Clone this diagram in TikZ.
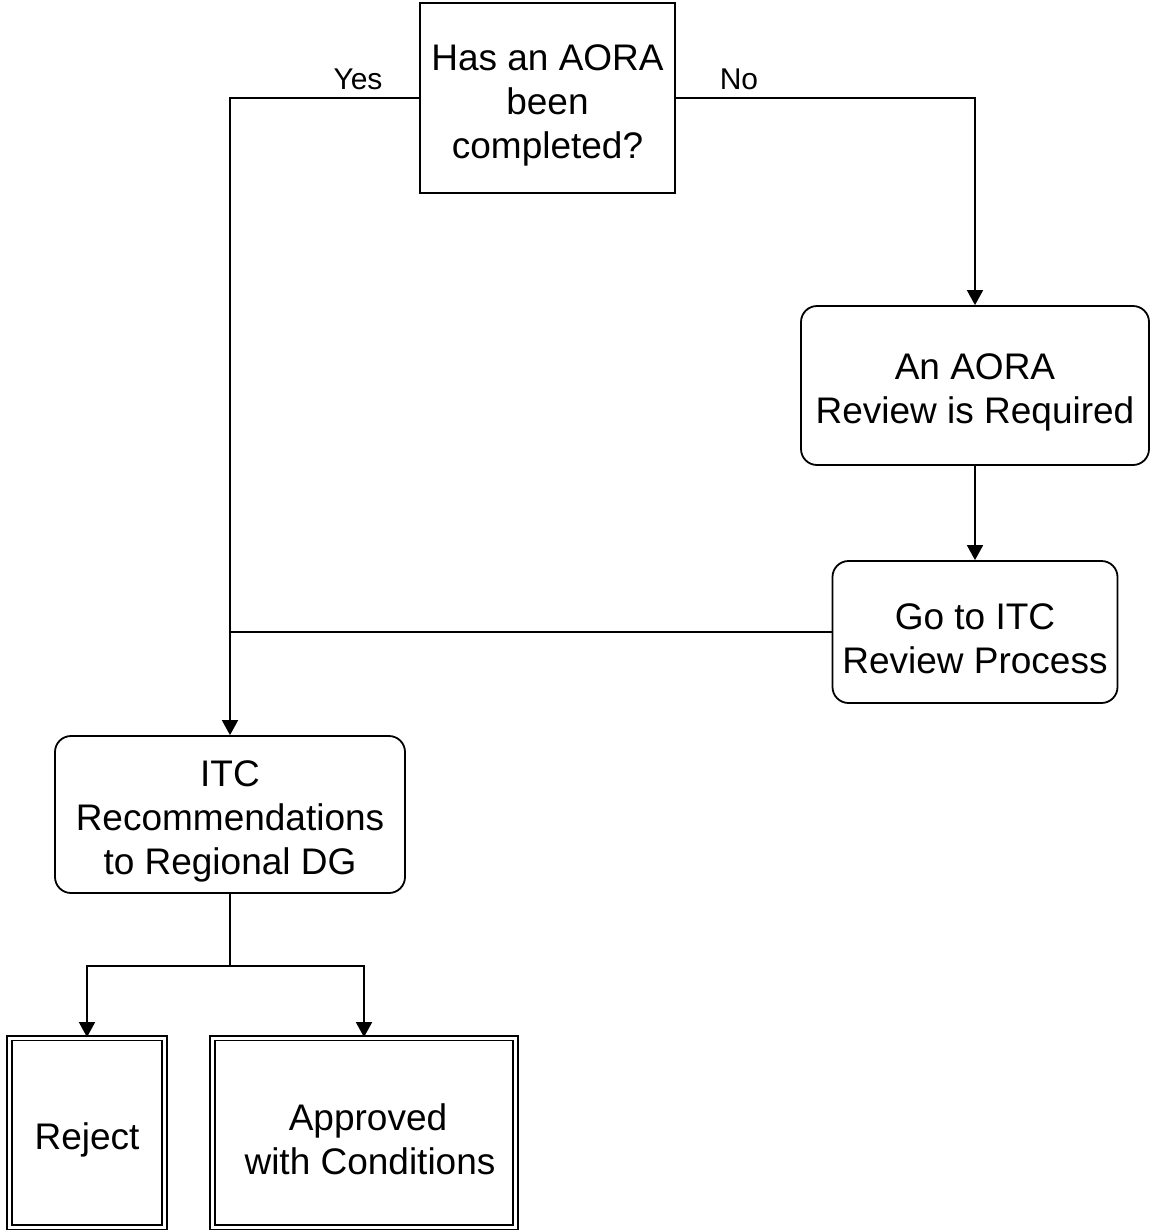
\documentclass[tikz,border=0pt]{standalone}
\usepackage{fontspec}
\setmainfont{Liberation Sans}
\usetikzlibrary{arrows.meta}
\begin{document}
\begin{tikzpicture}[x=1pt,y=-1pt,
  every node/.style={font=\fontsize{37}{44}\selectfont, align=center, inner sep=0pt},
  txt/.style={label={[yshift=-7pt]center:#1}},
  box/.style={draw, line width=1.8pt},
  rbox/.style={draw, line width=1.8pt, rounded corners=16pt},
  dbox/.style={draw, line width=1.8pt, double=white, double distance=3pt},
  conn/.style={line width=1.8pt},
  arr/.style={conn, -{Triangle[length=15pt,width=16pt]}},
  lbl/.style={font=\fontsize{30}{34}\selectfont}
]
\useasboundingbox (0,0) rectangle (1151,1232);
\node[box, minimum width=255pt, minimum height=190pt, txt={Has an AORA\\been\\completed?}] (q) at (547.5,98) {};
\node[rbox, minimum width=348pt, minimum height=159pt, txt={An AORA\\Review is Required}] (aora) at (975,385.5) {};
\node[rbox, minimum width=285pt, minimum height=142pt, txt={Go to ITC\\Review Process}] (go) at (975,632) {};
\node[rbox, minimum width=350pt, minimum height=157pt, txt={ITC\\Recommendations\\to Regional DG}] (itc) at (230,814.5) {};
\node[dbox, minimum width=155pt, minimum height=189pt, txt={Reject}] (rej) at (87,1132.5) {};
\node[dbox, minimum width=303pt, minimum height=189pt, txt={\hspace*{8pt}Approved\\\hspace*{12pt}with Conditions}] (app) at (364,1132.5) {};
\coordinate (split) at (230,966);
\node[lbl] (yes) at (358,79) {Yes};
\node[lbl] (no) at (739,79) {No};
\draw[arr] (q.west) -| (itc.north);
\draw[arr] (q.east) -| (aora.north);
\draw[arr] (aora.south) -- (go.north);
\draw[conn] (go.west) -- (go.west -| itc.north);
\draw[conn] (itc.south) -- (split);
\draw[arr] (split) -| (rej.north);
\draw[arr] (split) -| (app.north);
\end{tikzpicture}
\end{document}
